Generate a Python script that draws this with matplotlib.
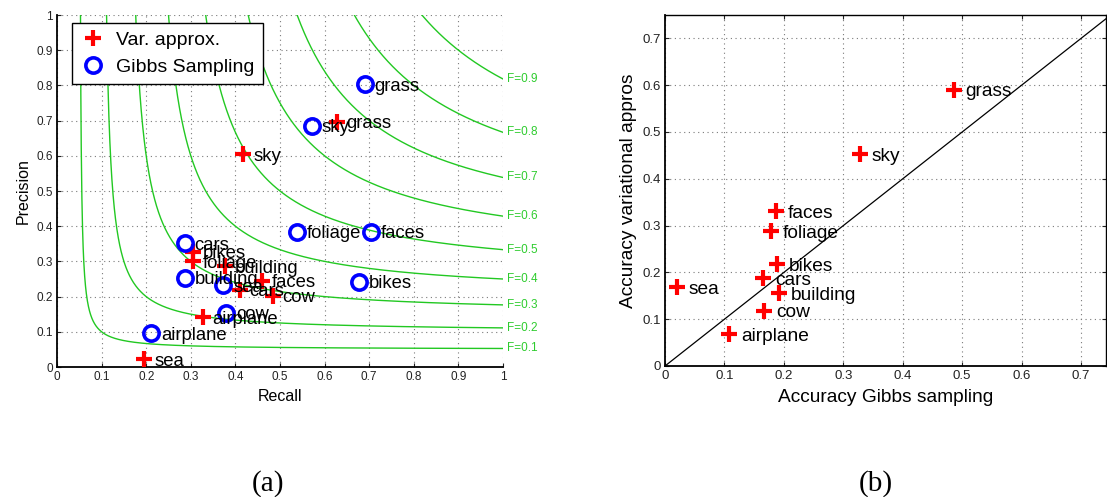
import numpy as np
import matplotlib
matplotlib.use("Agg")
import matplotlib.pyplot as plt
from matplotlib.lines import Line2D

plt.rcParams['font.family'] = ['Liberation Sans', 'DejaVu Sans']

# ---- data -------------------------------------------------------------
categories = ["airplane", "bikes", "building", "cars", "cow",
              "faces", "foliage", "grass", "sea", "sky"]

# (a) recall / precision per class
var_recall = [0.327, 0.305, 0.377, 0.410, 0.484, 0.460, 0.305, 0.627, 0.196, 0.418]
var_precision = [0.141, 0.327, 0.287, 0.219, 0.202, 0.245, 0.300, 0.697, 0.022, 0.605]
gibbs_recall = [0.211, 0.678, 0.287, 0.287, 0.379, 0.704, 0.539, 0.690, 0.373, 0.571]
gibbs_precision = [0.096, 0.242, 0.254, 0.351, 0.154, 0.384, 0.384, 0.803, 0.233, 0.685]

f_levels = [0.1, 0.2, 0.3, 0.4, 0.5, 0.6, 0.7, 0.8, 0.9]

# (b) accuracy per class
acc_gibbs = [0.108, 0.188, 0.192, 0.165, 0.167, 0.186, 0.178, 0.486, 0.020, 0.328]
acc_var = [0.068, 0.217, 0.155, 0.187, 0.118, 0.331, 0.288, 0.590, 0.168, 0.452]

ticks_a = [0, 0.1, 0.2, 0.3, 0.4, 0.5, 0.6, 0.7, 0.8, 0.9, 1]
tick_labels_a = ["0", "0.1", "0.2", "0.3", "0.4", "0.5", "0.6", "0.7", "0.8", "0.9", "1"]
ticks_b = [0, 0.1, 0.2, 0.3, 0.4, 0.5, 0.6, 0.7]
tick_labels_b = ["0", "0.1", "0.2", "0.3", "0.4", "0.5", "0.6", "0.7"]

# ---- style ------------------------------------------------------------
RED = "#ff0000"
BLUE = "#0000ff"
GREEN_LINE = "#22c822"
GREEN_TEXT = "#2ecc2e"
GRID = dict(color="#7a7a7a", linestyle=(0, (1, 3.2)), linewidth=0.8)
plus_kw = dict(linestyle="none", marker="+", markersize=12, markeredgewidth=3,
               color=RED)
circ_kw = dict(linestyle="none", marker="o", markersize=11, markeredgewidth=2.6,
               markerfacecolor="none", markeredgecolor=BLUE)

W, H = 1107, 497
fig = plt.figure(figsize=(W / 100, H / 100), dpi=100)


def px_axes(left, top, right, bottom):
    return fig.add_axes([left / W, 1 - bottom / H, (right - left) / W, (bottom - top) / H])


def label_points(ax, xs, ys, names, dx, size):
    for x, y, n in zip(xs, ys, names):
        ax.annotate(n, (x, y), xytext=(dx, -1.5), textcoords="offset points",
                    ha="left", va="center", fontsize=size, color="black",
                    annotation_clip=False)


# ---- (a) precision / recall ------------------------------------------
ax1 = px_axes(57, 15, 503, 367)
ax1.set_xlim(0, 1)
ax1.set_ylim(0, 1)

for F in f_levels:
    r = np.linspace(F / 2 + 1e-4, 1, 2000)
    p = F * r / (2 * r - F)
    ax1.plot(r, p, color=GREEN_LINE, linewidth=1.0, zorder=1)
    ax1.text(1.01, F / (2 - F), f"F={F:.1f}", color=GREEN_TEXT, fontsize=8.5,
             ha="left", va="center", clip_on=False)

ax1.plot(var_recall, var_precision, zorder=3, **plus_kw)
ax1.plot(gibbs_recall, gibbs_precision, zorder=3, **circ_kw)
label_points(ax1, var_recall, var_precision, categories, 7, 13.3)
label_points(ax1, gibbs_recall, gibbs_precision, categories, 7, 13.3)

ax1.set_xticks(ticks_a)
ax1.set_xticklabels(tick_labels_a)
ax1.set_yticks(ticks_a)
ax1.set_yticklabels(tick_labels_a)
ax1.grid(True, **GRID)
ax1.set_axisbelow(True)
for s in ("top", "right"):
    ax1.spines[s].set_visible(False)
for s in ("left", "bottom"):
    ax1.spines[s].set_linewidth(1.3)
ax1.tick_params(direction="in", length=3, width=0.8, labelsize=8.5,
                colors="#222222", pad=3)
ax1.set_xlabel("Recall", fontsize=11.5, labelpad=4)
ax1.set_ylabel("Precision", fontsize=11.5, labelpad=4)

handles = [Line2D([], [], **plus_kw), Line2D([], [], **circ_kw)]
leg = ax1.legend(handles, ["Var. approx.", "Gibbs Sampling"], loc="upper left",
                 bbox_to_anchor=(0.0336, 0.977), borderaxespad=0, fontsize=14,
                 fancybox=False, framealpha=1, edgecolor="black",
                 handlelength=1.3, handletextpad=0.55, borderpad=0.42,
                 labelspacing=0.5)
leg.get_frame().set_linewidth(1.0)

# ---- (b) accuracy comparison -----------------------------------------
ax2 = px_axes(665, 15, 1106, 366)
ax2.set_xlim(0, 0.742)
ax2.set_ylim(0, 0.75)
ax2.plot([0, 0.75], [0, 0.75], color="black", linewidth=0.9, zorder=2)
ax2.plot(acc_gibbs, acc_var, zorder=3, **plus_kw)
label_points(ax2, acc_gibbs, acc_var, categories, 8.5, 13.8)

ax2.set_xticks(ticks_b)
ax2.set_xticklabels(tick_labels_b)
ax2.set_yticks(ticks_b)
ax2.set_yticklabels(tick_labels_b)
ax2.grid(True, **GRID)
ax2.set_axisbelow(True)
for s in ax2.spines.values():
    s.set_linewidth(1.0)
ax2.spines["bottom"].set_linewidth(1.3)
ax2.spines["left"].set_linewidth(1.3)
ax2.tick_params(direction="in", length=3, width=0.8, labelsize=9.5,
                colors="#222222", pad=3, top=True, right=True)
ax2.set_xlabel("Accuracy Gibbs sampling", fontsize=13.8, labelpad=5)
ax2.set_ylabel("Accuracy variational appros", fontsize=13.8, labelpad=4)

# ---- panel captions ---------------------------------------------------
fig.text(268 / W, 1 - 484 / H, "(a)", family="Liberation Serif", fontsize=21,
         ha="center", va="center")
fig.text(876 / W, 1 - 484 / H, "(b)", family="Liberation Serif", fontsize=21,
         ha="center", va="center")

fig.savefig("out.png", dpi=100)
